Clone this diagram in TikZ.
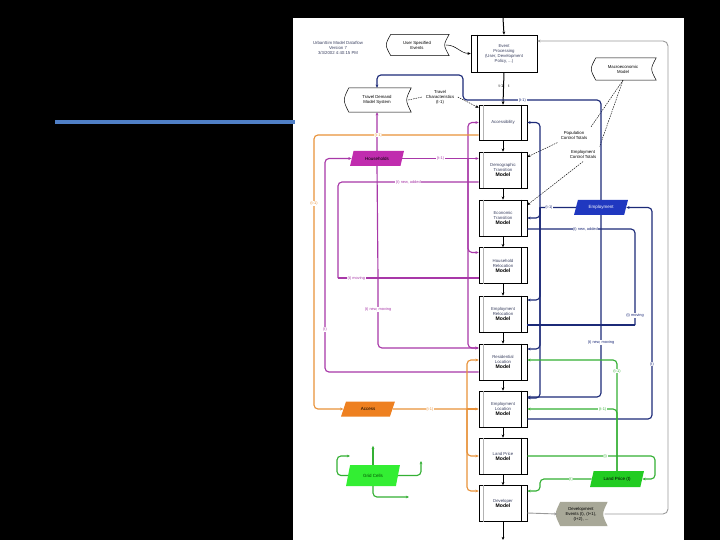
\documentclass[tikz,border=0pt]{standalone}
\usepackage{fontspec}
\setmainfont{Liberation Sans}
\usepackage{tikz}
\usetikzlibrary{arrows.meta, positioning, calc, shapes.geometric}
\definecolor{hhline}{HTML}{A838A8}
\definecolor{hhfill}{HTML}{C02CAE}
\definecolor{accline}{HTML}{E8923A}
\definecolor{accfill}{HTML}{EE8020}
\definecolor{empline}{HTML}{1C2A78}
\definecolor{empfill}{HTML}{2038C0}
\definecolor{gline}{HTML}{34B034}
\definecolor{gridfill}{HTML}{33EE33}
\definecolor{lpfill}{HTML}{22CC22}
\definecolor{loopgray}{HTML}{9A9A9A}
\definecolor{devfill}{HTML}{A8A898}
\definecolor{modeltext}{HTML}{3A4060}
\definecolor{bluebar}{HTML}{4F7FC6}
\newcommand{\modelword}{{\fontsize{5.1}{6}\selectfont\bfseries\color{black}Model}}

\begin{document}
\begin{tikzpicture}[x=1pt, y=-1pt,
  >={Stealth[length=3.2pt,width=2.8pt]},
  model/.style={draw, fill=white, line width=0.6pt, minimum width=48pt, minimum height=36pt,
    inner sep=0pt, align=center, font=\fontsize{4.3}{5}\selectfont, text=modeltext},
  stored/.style={minimum width=#1, minimum height=21pt, inner sep=0pt, align=center,
    font=\fontsize{4.3}{5}\selectfont},
  datapara/.style={trapezium, trapezium left angle=70, trapezium right angle=110,
    trapezium stretches=true, minimum width=54pt, minimum height=15pt, inner sep=1pt,
    font=\fontsize{4.5}{5}\selectfont},
  lbl/.style={font=\fontsize{3.9}{4.5}\selectfont, fill=white, inner sep=0.6pt, rounded corners=0pt},
  txt/.style={font=\fontsize{4.3}{5}\selectfont, align=center, text=modeltext},
  flow/.style={->, line width=1pt},
  pl/.style={color=hhline, line width=1.15pt, rounded corners=4pt},
  ol/.style={color=accline, line width=1.15pt, rounded corners=4pt},
  nl/.style={color=empline, line width=1.15pt, rounded corners=4pt},
  gl/.style={color=gline, line width=1.15pt, rounded corners=4pt},
  grl/.style={color=loopgray, line width=0.9pt, rounded corners=5pt},
  ctl/.style={line width=0.45pt, dash pattern=on 1.5pt off 1pt}]
  \useasboundingbox (0,0) rectangle (720,540);
  \fill[black] (0,0) rectangle (720,540);
  \fill[white] (293,18) rectangle (684,540);
  \fill[bluebar] (55,120) rectangle (295,124.5);

  % title and inputs
  \node[txt] (title) at (338,48) {UrbanSim Model Dataflow\\Version 7\\3/3/2002 4:40:15 PM};
  \node[stored=58pt] (usev) at (417,45) {User Specified\\Events};
  \node[stored=62pt, minimum height=24pt] (tdm) at (377,100) {Travel Demand\\Model System};
  \node[stored=60pt, minimum height=22pt] (macro) at (623,69) {Macroeconomic\\Model};
  \node[txt, text=black] (tchar) at (440,97) {Travel\\Characteristics\\(t-1)};
  \node[txt, text=black] (popct) at (574,135) {Population\\Control Totals};
  \node[txt, text=black] (empct) at (583,154) {Employment\\Control Totals};

  % model chain
  \node[model, minimum width=66pt, minimum height=37pt] (event) at (504,53.5) {Event\\Processing\\(User, Development\\Policy, ...)};
  \node[model, minimum height=35pt] (access) at (503,122.5) {Accessibility};
  \node[model] (demo) at (503,170) {Demographic\\Transition\\\modelword};
  \node[model] (econ) at (503,218) {Economic\\Transition\\\modelword};
  \node[model] (hhreloc) at (503,265.5) {Household\\Relocation\\\modelword};
  \node[model] (emreloc) at (503,314) {Employment\\Relocation\\\modelword};
  \node[model] (resloc) at (503,362) {Residential\\Location\\\modelword};
  \node[model] (emloc) at (503,409) {Employment\\Location\\\modelword};
  \node[model] (landprice) at (503,456) {Land Price\\\modelword};
  \node[model] (developer) at (503,503.5) {Developer\\\modelword};
  \foreach \n in {access,demo,econ,hhreloc,emreloc,resloc,emloc,landprice,developer}{
    \draw[gray!60, line width=0.4pt] ([xshift=4pt]\n.north west) -- ([xshift=4pt]\n.south west);
    \draw[line width=0.6pt] ([xshift=-6pt]\n.north east) -- ([xshift=-6pt]\n.south east);
  }
  \draw[line width=0.6pt] ([xshift=7pt]event.north west) -- ([xshift=7pt]event.south west);

  % data tables
  \node[datapara, fill=hhfill] (hh) at (377,158.5) {Households};
  \node[datapara, fill=accfill] (acc) at (368,409) {Access};
  \node[datapara, fill=gridfill, minimum height=21pt, text=black!70!green] (grid) at (373,475.5) {Grid Cells};
  \node[datapara, fill=empfill, text=white] (emp) at (601,207.5) {Employment};
  \node[datapara, fill=lpfill, minimum height=16pt] (lp) at (617,479) {Land Price (t)};
  \node[stored=47pt, minimum height=24pt, align=center] (devev) at (581,514) {Development\\Events (t), (t+1),\\(t+2), ...};

  % stored data outlines
  \fill[devfill] ($(devev.north west)+(3,0)$) -- ($(devev.north east)+(3,0)$) .. controls ($(devev.east)+(-3,0)$) .. ($(devev.south east)+(3,0)$) -- ($(devev.south west)+(3,0)$) .. controls ($(devev.west)+(-3,0)$) .. ($(devev.north west)+(3,0)$) -- cycle;
  \node[font=\fontsize{4.3}{5}\selectfont, align=center] at (devev) {Development\\Events (t), (t+1),\\(t+2), ...};
  \foreach \n in {usev,tdm,macro}{
    \draw[line width=0.5pt] ($(\n.north west)+(3,0)$) -- ($(\n.north east)+(3,0)$) .. controls ($(\n.east)+(-3,0)$) .. ($(\n.south east)+(3,0)$) -- ($(\n.south west)+(3,0)$) .. controls ($(\n.west)+(-3,0)$) .. ($(\n.north west)+(3,0)$) -- cycle;
  }

  % main flow
  \coordinate (top) at (503,18);
  \coordinate (bottom) at (503,540);
  \draw[flow] (top) -- (event.north);
  \draw[flow] (event.south) -- (access.north);
  \node[font=\fontsize{4}{4.5}\selectfont] (tstep) at (504,86) {t-1\hspace{5pt}t};
  \foreach \a/\b in {access/demo,demo/econ,econ/hhreloc,hhreloc/emreloc,emreloc/resloc,resloc/emloc,emloc/landprice,landprice/developer}
    \draw[flow] (\a.south) -- (\b.north);
  \draw[flow] (developer.south) -- (bottom);
  \draw[->, line width=0.5pt] (usev.east) to[out=0, in=180] (event.west);

  % controls and travel
  \draw[ctl] (tdm.east) -- (tchar.west);
  \draw[ctl, ->] (tchar.east) -- ([yshift=-3pt]access.north west);
  \draw[ctl] (macro.south) -- (popct.north east);
  \draw[ctl] (macro.south) -- (empct.north east);
  \draw[ctl, ->] (popct.south west) -- ([yshift=13pt]demo.east);
  \draw[ctl, ->] (empct.south) -- ([yshift=13pt]econ.east);

  % households
  \coordinate (pbus) at (468,158.5);
  \draw[pl, ->] (hh.east) -- node[lbl]{(t-1)} (hh.east -| demo.west);
  \draw[pl, ->] (pbus) |- (access.west);
  \draw[pl, ->] (pbus) |- ([yshift=13pt]hhreloc.west);
  \draw[pl, ->] (pbus) |- ([yshift=14pt]resloc.west);
  \draw[pl, ->] (hh.north) -- (tdm.south);
  \draw[pl] ([yshift=-12pt]demo.west) -- node[lbl]{(t) new, added} (338,182) -- (338,278);
  \draw[pl] ([yshift=-12.5pt]hhreloc.west) -- node[lbl, pos=0.87]{(t) moving} (338,278);
  \draw[pl] (hh.south) -- (378,278);
  \draw[pl, ->] (378,278) -- node[lbl, pos=0.45]{(t) new, moving} (378,348) -- ([yshift=14pt]resloc.west);
  \draw[pl, ->] ([yshift=-10pt]resloc.west) -- (325,372) -- node[lbl, pos=0.2]{(t)} (325,158.5) -- (hh.west);

  % access
  \coordinate (obus) at (467,409);
  \draw[ol, ->] ([yshift=-12.5pt]access.west) -- node[lbl, pos=0.61]{(t-1)} (314,135) -- node[lbl, pos=0.25]{(t-1)} (314,409) -- (acc.west);
  \draw[ol] (acc.east) -- node[lbl]{(t-1)} (obus);
  \draw[ol, ->] (obus) |- ([yshift=2pt]resloc.west);
  \draw[ol, ->] (obus) -- (emloc.west);
  \draw[ol, ->] (obus) |- (landprice.west);
  \draw[ol, ->] (obus) |- ([yshift=12.5pt]developer.west);

  % employment
  \coordinate (nbus) at (540,207.5);
  \draw[nl, ->] (emp.north) -- (601,100) -- node[lbl, pos=0.57]{(t-1)} (463,100) -- (463,75) -| (tdm.north);
  \draw[nl] (emp.west) -- node[lbl, pos=0.75]{(t-1)} (nbus);
  \draw[nl, ->] (nbus) |- (access.east);
  \draw[nl, ->] (nbus) |- (econ.east);
  \draw[nl, ->] (nbus) |- ([yshift=14pt]emreloc.east);
  \draw[nl, ->] (nbus) |- ([yshift=13pt]resloc.east);
  \draw[nl, ->] (nbus) |- ([yshift=11pt]emloc.east);
  \draw[nl] ([yshift=-11pt]econ.east) -- node[lbl, pos=0.54]{(t) new, added} (635,229) -- node[lbl, pos=0.9]{(t) moving} (635,325);
  \draw[nl] ([yshift=-11pt]emreloc.east) -- (635,325);
  \draw[nl, ->] (emp.south) -- node[lbl, pos=0.7]{(t) new, moving} (601,397) -- ([yshift=12pt]emloc.east);
  \draw[nl, ->] ([yshift=-10pt]emloc.east) -- (652,419) -- node[lbl, pos=0.26]{(t)} (652,207.5) -- (emp.east);

  % land price
  \draw[gl, ->] (lp.north) -- node[lbl, pos=0.9]{(t-1)} (617,360) -- ([yshift=2pt]resloc.east);
  \draw[gl, ->] (lp.north) |- node[lbl, pos=0.58]{(t-1)} (emloc.east);
  \draw[gl, ->] (landprice.east) -- node[lbl, pos=0.61]{(t)} (655,456) |- (lp.east);
  \draw[gl, ->] (lp.west) -- node[lbl, pos=0.4]{(t)} (540,479) |- ([yshift=12.5pt]developer.east);

  % grid cells
  \draw[gl, ->] (grid.north) -- ++(0,-19);
  \draw[gl, ->] (grid.west) -- (337,475.5) -- (337,456) -- (350,456);
  \draw[gl, ->] (grid.east) -- (421,475.5) -- (421,461);
  \draw[gl, ->] (grid.south) -- (373,497) -- (409,497);

  % development loop
  \draw[grl, ->] ([yshift=-9.5pt]developer.east) -- (devev.west);
  \draw[grl, ->] (devev.east) -- (668,514) -- (668,41) -- ([yshift=12.5pt]event.east);
\end{tikzpicture}
\end{document}
